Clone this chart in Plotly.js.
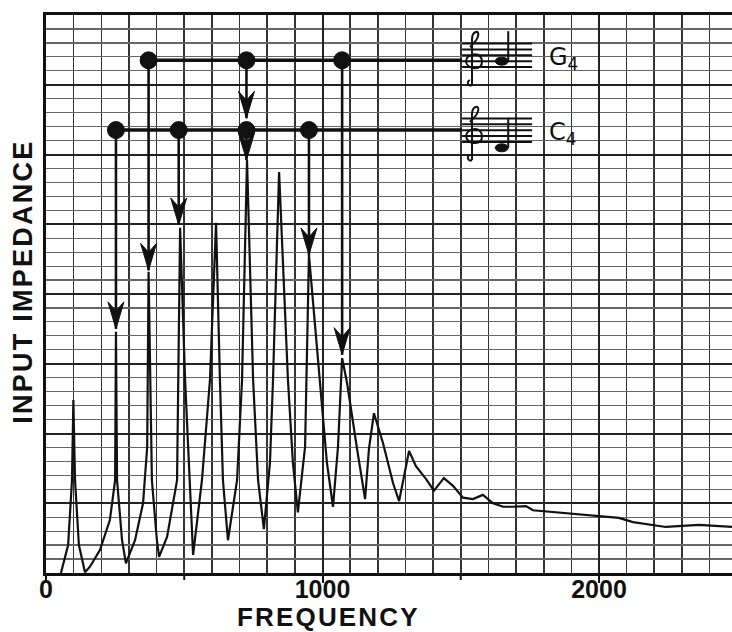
<!DOCTYPE html>
<html>
<head>
<meta charset="utf-8">
<script src="https://cdn.plot.ly/plotly-3.0.1.min.js"></script>
<style>html,body{margin:0;padding:0;background:#fff}#chart{width:732px;height:632px}</style>
</head>
<body>
<div id="chart"></div>
<script>
// Impedance curve (frequency in Hz, impedance in grid divisions)
const freq = [54,80,94,99,105,119,141,159,195,231,250,253,257,275,289,322,351,366,371,383,401,409,438,474,485,503,532,564,593,615,629,640,658,691,709,727,749,767,788,810,821,843,875,893,911,937,951,991,1016,1038,1056,1071,1089,1125,1154,1168,1186,1219,1255,1277,1302,1313,1338,1374,1403,1439,1472,1508,1544,1580,1617,1653,1689,1736,1761,1881,2000,2072,2123,2217,2242,2362,2481];
const impedance = [0.00,0.40,1.33,2.48,1.33,0.40,0.01,0.09,0.33,0.76,1.33,3.46,1.33,0.47,0.14,0.47,1.00,1.81,4.32,1.33,0.47,0.23,0.52,1.33,4.95,2.77,0.26,1.33,2.77,5.02,2.77,1.33,0.47,1.33,2.77,5.92,2.77,1.33,0.63,1.58,2.77,5.75,2.77,1.58,0.87,1.81,4.56,2.77,1.58,0.95,1.81,3.08,2.72,1.78,1.06,1.78,2.29,1.86,1.29,1.03,1.53,1.75,1.53,1.35,1.18,1.36,1.25,1.08,1.06,1.12,1.00,0.95,0.95,0.96,0.90,0.86,0.82,0.79,0.73,0.67,0.66,0.69,0.66];

// Note harmonics: dot frequencies, level of each note's line, and peak each arrow points to
const c4Freq = [253, 480, 725, 951];
const c4Tip = [3.50, 4.99, 5.92, 4.56];
const c4Level = 6.35;
const g4Freq = [371, 725, 1071];
const g4Tip = [4.34, 6.52, 3.13];
const g4Level = 7.35;

// Tick labels and extra tick marks
const xTickVals = [0, 1000, 2000];
const xTickText = ['0', '1000', '2000'];
const xHalfTicks = [500, 1500];

const staffStart = 1505, staffEnd = 1758, clefX = 1548, noteX = 1650, labelX = 1812;
const s = 0.084; // staff spacing in divisions
const notes = [
  {name: 'G', level: g4Level, freqs: g4Freq, tips: g4Tip, staffE: 7.254, noteY: 7.254 + s},
  {name: 'C', level: c4Level, freqs: c4Freq, tips: c4Tip, staffE: 6.18, noteY: 6.18 - s}
];

const traces = [{
  x: freq, y: impedance, type: 'scatter', mode: 'lines',
  line: {color: '#111', width: 2.2}, hoverinfo: 'skip'
}];
const shapes = [];
const annotations = [];

xHalfTicks.forEach(v => shapes.push({type: 'line', xref: 'x', yref: 'paper', ysizemode: 'pixel', yanchor: 0,
  x0: v, x1: v, y0: 0, y1: -7, line: {color: '#111', width: 2}}));

notes.forEach(n => {
  traces.push({x: [n.freqs[0], staffStart], y: [n.level, n.level], mode: 'lines',
    line: {color: '#111', width: 3.5}, hoverinfo: 'skip'});
  const vx = [], vy = [];
  n.freqs.forEach((f, i) => { vx.push(f, f, null); vy.push(n.level, n.tips[i], null); });
  traces.push({x: vx, y: vy, mode: 'lines', line: {color: '#111', width: 2.6}, hoverinfo: 'skip'});
  n.freqs.forEach((f, i) => {
    shapes.push({type: 'path', xref: 'x', yref: 'y', xsizemode: 'pixel', ysizemode: 'pixel',
      xanchor: f, yanchor: n.tips[i], path: 'M0,0 L-8,27 L0,18 L8,27 Z',
      fillcolor: '#111', line: {color: '#111', width: 1}});
  });
  traces.push({x: n.freqs, y: n.freqs.map(() => n.level), mode: 'markers',
    marker: {size: 17, color: '#111', line: {color: '#111', width: 1}}, hoverinfo: 'skip'});
  for (let k = 0; k < 5; k++) {
    const yy = n.staffE + k * s;
    shapes.push({type: 'line', xref: 'x', yref: 'y', x0: staffStart, x1: staffEnd, y0: yy, y1: yy,
      line: {color: '#111', width: 2}});
  }
  shapes.push({type: 'path', xref: 'x', yref: 'y', xsizemode: 'pixel', ysizemode: 'pixel',
    xanchor: clefX, yanchor: n.staffE + s,
    path: 'M-2,-24 C-6,-26 -8,-20 -4,-19 M-2,-24 L-2,22 C-2,30 6,32 4,25 C3,20 -1,18 -4,14 ' +
          'M1,7 C-5,7 -8,3 -8,0 C-8,-4 -4,-7 1,-7 C6,-7 8,-4 8,0 C8,4 5,7 1,7',
    line: {color: '#111', width: 2}});
  shapes.push({type: 'circle', xref: 'x', yref: 'y', xsizemode: 'pixel', ysizemode: 'pixel',
    xanchor: noteX, yanchor: n.noteY, x0: -7, x1: 6, y0: -4, y1: 4,
    fillcolor: '#111', line: {color: '#111', width: 1}});
  shapes.push({type: 'line', xref: 'x', yref: 'y', xsizemode: 'pixel', ysizemode: 'pixel',
    xanchor: noteX, yanchor: n.noteY, x0: 6, x1: 6, y0: 0, y1: 30,
    line: {color: '#111', width: 2}});
  annotations.push({x: labelX, y: n.staffE + 1.5 * s, xref: 'x', yref: 'y', xanchor: 'left', yanchor: 'middle',
    text: n.name + '<sub>4</sub>', showarrow: false,
    font: {family: 'DejaVu Sans', size: 24, color: '#111'}});
});

const hair = '\u200A';
annotations.push({
  text: 'FREQUENCY'.split('').join(hair), xref: 'paper', yref: 'paper', x: 0.41, y: 0,
  yshift: -44, xanchor: 'center', yanchor: 'middle', showarrow: false,
  font: {family: 'Liberation Sans', size: 26, color: '#111', weight: 'bold'}
});
annotations.push({
  text: 'INPUT IMPEDANCE'.split('').join(hair), xref: 'paper', yref: 'paper', x: 0, y: 0.52,
  xshift: -23, xanchor: 'center', yanchor: 'middle', textangle: -90, showarrow: false,
  font: {family: 'Liberation Sans', size: 27, color: '#111', weight: 'bold'}
});

const layout = {
  width: 732, height: 632,
  margin: {l: 46, r: 0, t: 15, b: 59},
  paper_bgcolor: '#fff', plot_bgcolor: '#fff',
  showlegend: false,
  xaxis: {
    range: [0, 2481], tickmode: 'array', tickvals: xTickVals, ticktext: xTickText,
    ticks: 'outside', ticklen: 7, tickwidth: 2, tickcolor: '#111', ticklabelstandoff: -15,
    showline: true, linewidth: 3, linecolor: '#111', mirror: true,
    showgrid: true, gridcolor: '#222', gridwidth: 2, zeroline: false,
    tickfont: {family: 'Liberation Sans', size: 25, color: '#111', weight: 'bold'},
    minor: {tickmode: 'linear', tick0: 0, dtick: 100, showgrid: true, gridcolor: '#333', gridwidth: 1.6, ticks: ''}
  },
  yaxis: {
    range: [0, 8], tickmode: 'linear', tick0: 0, dtick: 1, showticklabels: false, ticks: '',
    showline: true, linewidth: 3, linecolor: '#111',
    showgrid: true, gridcolor: '#222', gridwidth: 2, zeroline: false,
    minor: {tickmode: 'linear', tick0: 0, dtick: 0.2, showgrid: true, gridcolor: '#666', gridwidth: 1.2, ticks: ''}
  },
  shapes: shapes,
  annotations: annotations
};

Plotly.newPlot('chart', traces, layout, {displayModeBar: false, staticPlot: true});
</script>
</body>
</html>
